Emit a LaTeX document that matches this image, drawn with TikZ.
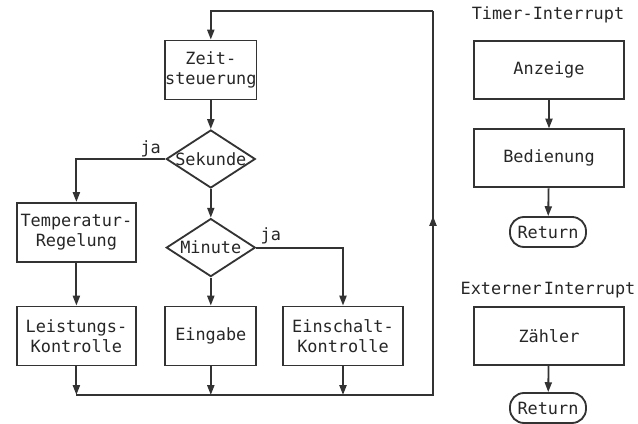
\documentclass[tikz,border=0pt]{standalone}
\usepackage{fontspec}
\setmonofont{DejaVu Sans Mono}
\usetikzlibrary{arrows.meta,shapes.geometric}
\tikzset{
	flow/.style={line width=1.3pt, draw=black!80, -{Triangle[length=7pt,width=5pt]}},
	wire/.style={line width=1.3pt, draw=black!80},
	txt/.style={font=\fontsize{12}{14.5}\selectfont\ttfamily, text=black!85, align=center},
	stepbox/.style={txt, draw=black!80, line width=1.3pt, minimum height=1.475cm, inner sep=0pt},
	decide/.style={diamond, draw=black!80, line width=1.3pt, inner sep=0pt, minimum width=2.225cm, minimum height=1.45cm},
	ret/.style={txt, draw=black!80, line width=1.3pt, rounded corners=0.35cm, minimum width=1.9cm, minimum height=0.75cm, inner sep=0pt}
}
\begin{document}
\begin{tikzpicture}
		\useasboundingbox (0,0) rectangle (15.95,10.6);
		\node[stepbox, minimum width=2.25cm] (zeit) at (5.27,8.85) {Zeit-\\steuerung};
		\node[decide, label={[txt]center:Sekunde}] (sek) at (5.27,6.625) {};
		\node[stepbox, minimum width=2.975cm] (temp) at (1.91,4.79) {Temperatur-\\Regelung};
		\node[stepbox, minimum width=2.975cm] (leist) at (1.91,2.2) {Leistungs-\\Kontrolle};
		\node[decide, label={[txt]center:Minute}] (min) at (5.27,4.41) {};
		\node[stepbox, minimum width=2.275cm] (eing) at (5.27,2.2) {Eingabe};
		\node[stepbox, minimum width=3cm] (einsch) at (8.575,2.2) {Einschalt-\\Kontrolle};
		\node[txt, anchor=south east, inner sep=1pt] (ja1) at ([xshift=-2pt]sek.west) {ja};
		\node[txt, anchor=south west, inner sep=1pt] (ja2) at ([xshift=2pt,yshift=1pt]min.east) {ja};
		\coordinate (bot) at (10.825,0.725);
		\coordinate (up) at (10.825,5.2);
		\coordinate (top) at (10.825,10.325);
		\draw[flow] (zeit) -- (sek);
		\draw[flow] (sek) -- (min);
		\draw[flow] (sek.west) -| (temp.north);
		\draw[flow] (temp) -- (leist);
		\draw[flow] (min) -- (eing);
		\draw[flow] (min.east) -| (einsch.north);
		\draw[flow] (leist.south) -- (leist.south |- bot);
		\draw[flow] (eing.south) -- (eing.south |- bot);
		\draw[flow] (einsch.south) -- (einsch.south |- bot);
		\draw[wire] (leist.south |- bot) -- (bot) -- (top);
		\draw[flow] (bot) -- (up);
		\draw[flow] (top) -| (zeit.north);
% 		interrupt routines
		\node[txt] (timer) at (13.7,10.225) {Timer-Interrupt};
		\node[stepbox, minimum width=3.75cm, minimum height=1.45cm] (anz) at (13.725,8.85) {Anzeige};
		\node[stepbox, minimum width=3.75cm, minimum height=1.45cm] (bed) at (13.725,6.64) {Bedienung};
		\node[ret] (ret1) at (13.7,4.8) {Return};
		\node[txt] (ext) at (13.7,3.35) {Externer\hspace{1.5pt}Interrupt};
		\node[stepbox, minimum width=3.75cm, minimum height=1.45cm] (zaehl) at (13.725,2.2) {Zähler};
		\node[ret] (ret2) at (13.7,0.4) {Return};
		\draw[flow] (anz) -- (bed);
		\draw[flow] (bed) -- (ret1);
		\draw[flow] (zaehl) -- (ret2);
	\end{tikzpicture}
\end{document}
